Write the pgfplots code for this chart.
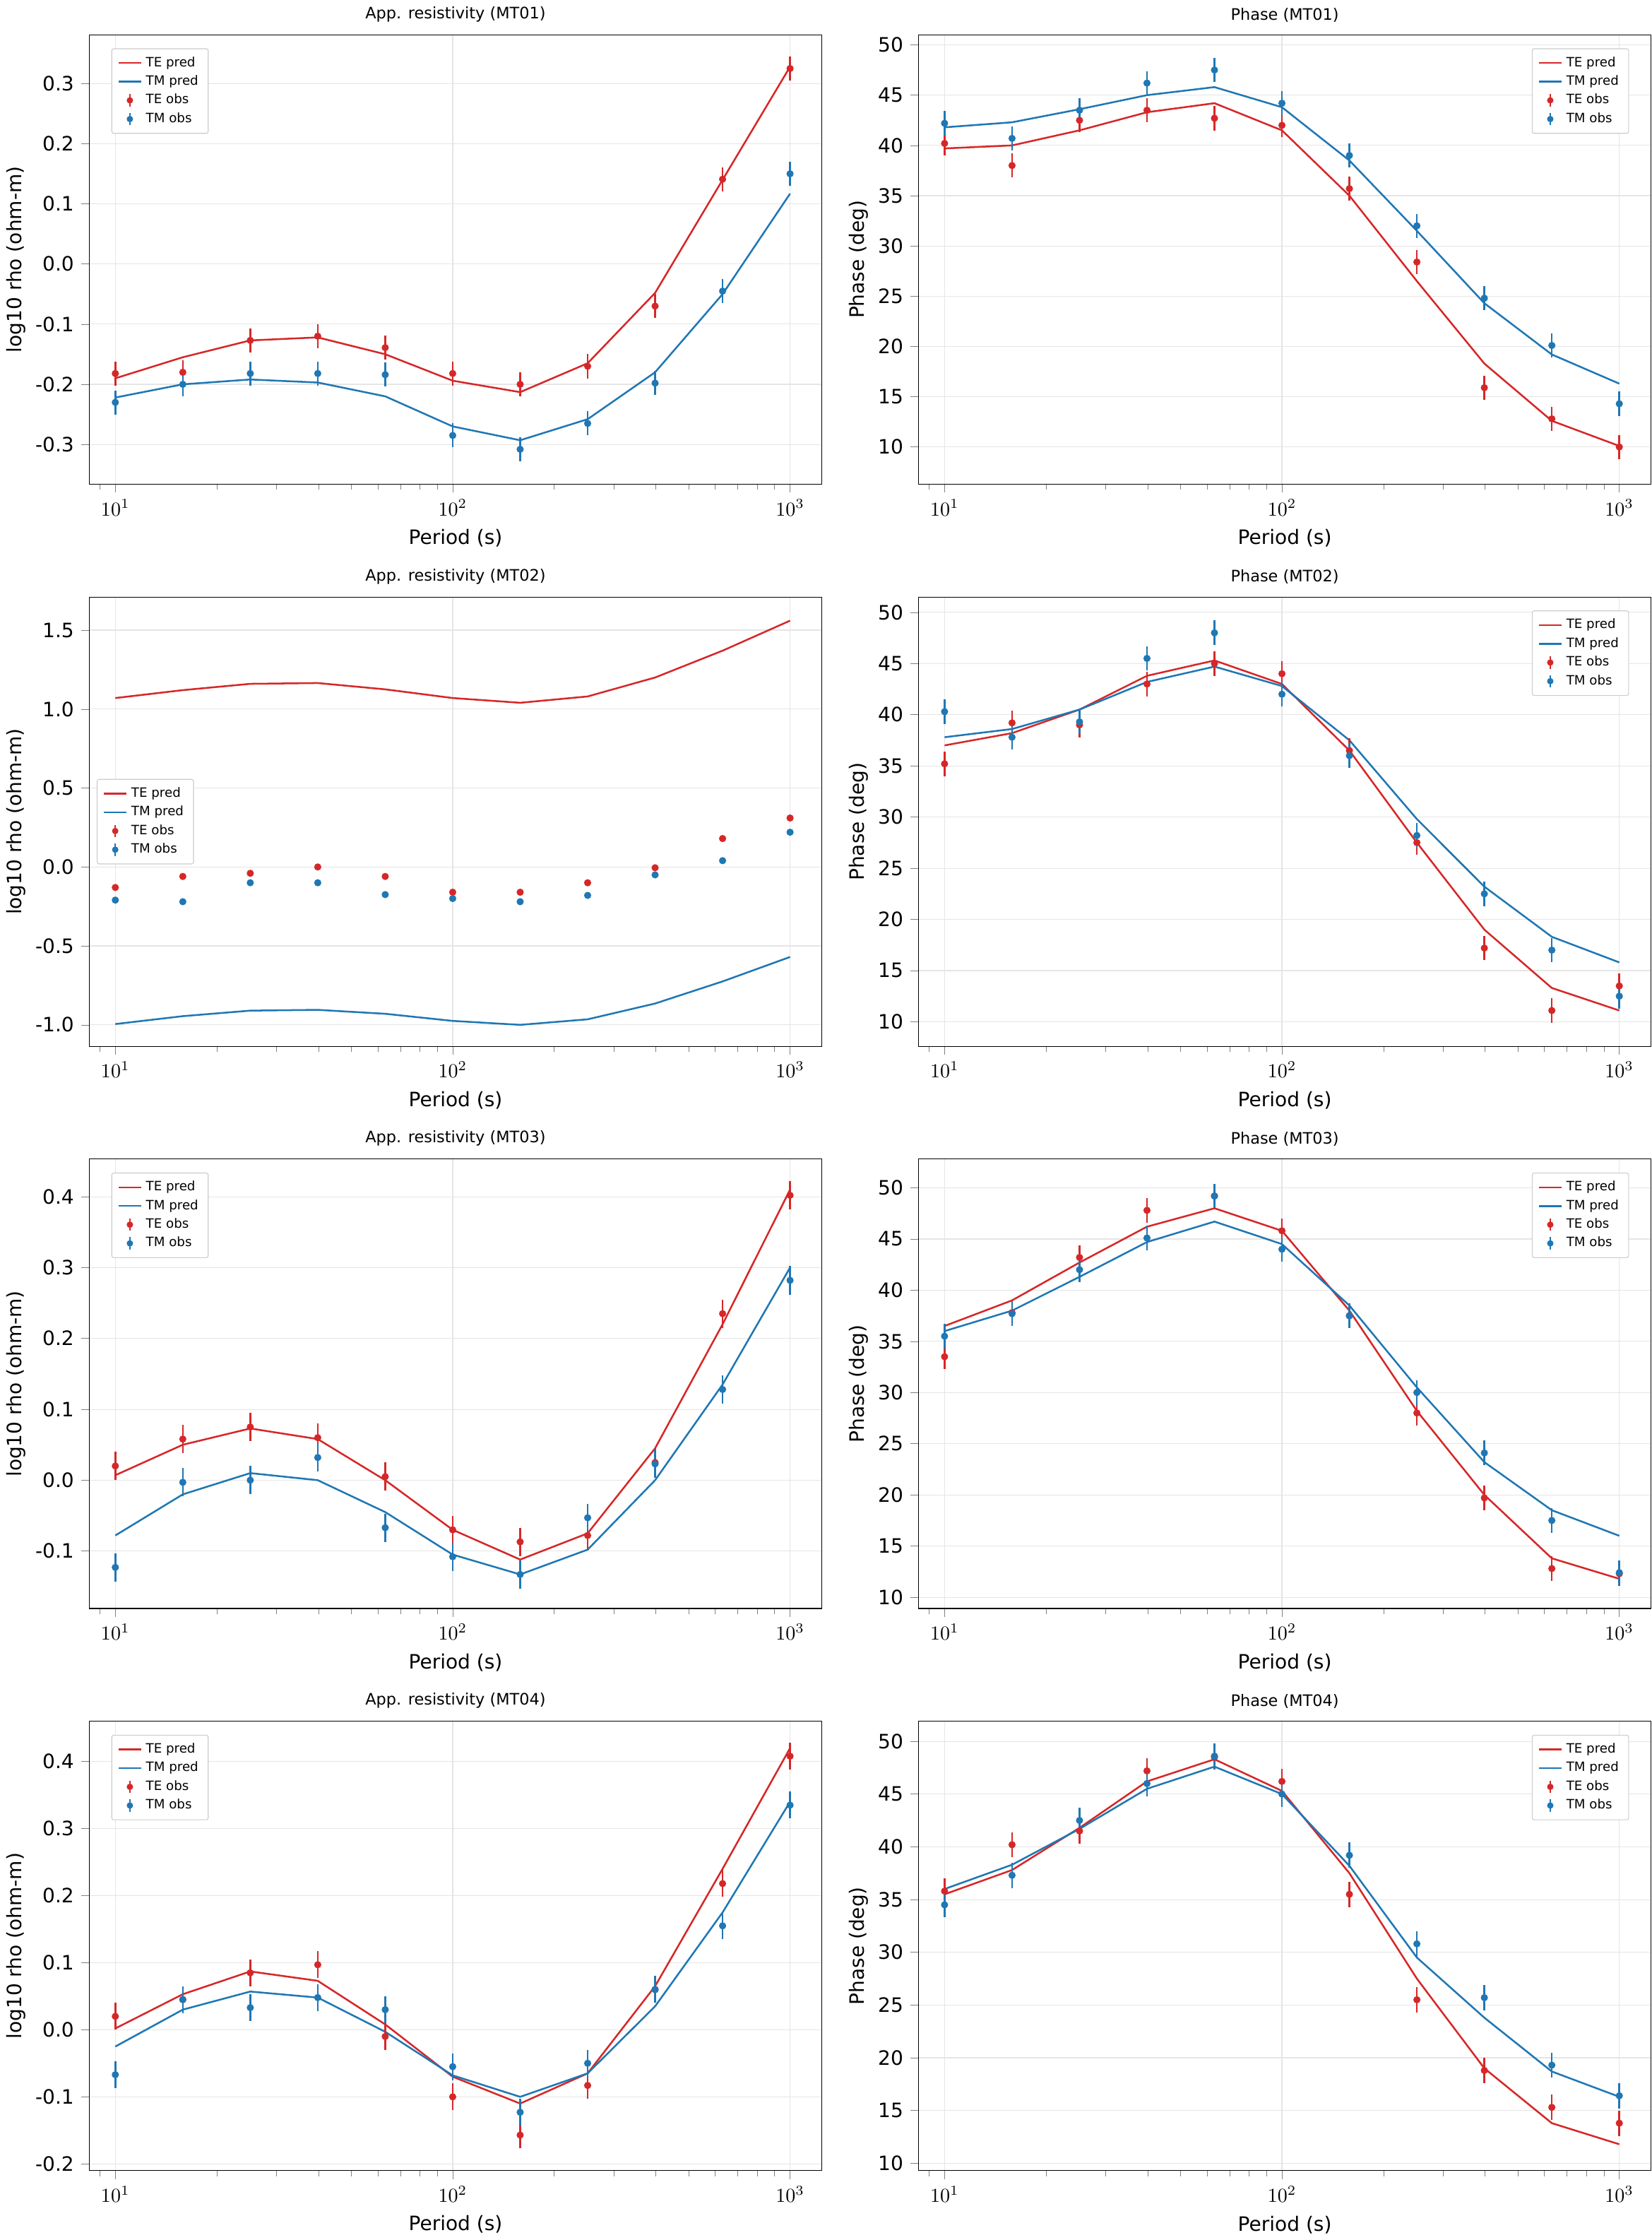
\documentclass[border=0pt]{standalone}
\usepackage{pgfplots}
\pgfplotsset{compat=1.18}
\usepackage{pgfplotstable}
\usepackage{fontspec}
\setmainfont{DejaVu Sans}
\usepgfplotslibrary{groupplots}
\definecolor{tered}{RGB}{214,39,40}
\definecolor{tmblue}{RGB}{31,119,180}

\pgfplotstableread{
T tep tmp teo tmo
10 -0.19 -0.222 -0.182 -0.23
15.849 -0.155 -0.2 -0.18 -0.2
25.119 -0.127 -0.192 -0.127 -0.182
39.811 -0.122 -0.197 -0.12 -0.182
63.096 -0.15 -0.22 -0.139 -0.184
100 -0.194 -0.27 -0.182 -0.285
158.49 -0.213 -0.293 -0.2 -0.308
251.19 -0.165 -0.258 -0.17 -0.265
398.11 -0.048 -0.18 -0.07 -0.198
630.96 0.14 -0.05 0.141 -0.045
1000 0.328 0.117 0.325 0.15
}\rhoA
\pgfplotstableread{
T tep tmp teo tmo
10 39.7 41.8 40.2 42.2
15.849 40.0 42.3 38.0 40.7
25.119 41.5 43.6 42.5 43.5
39.811 43.3 45.0 43.5 46.2
63.096 44.2 45.8 42.7 47.5
100 41.5 43.8 42.0 44.2
158.49 35.0 38.5 35.7 39.0
251.19 26.5 31.5 28.4 32.0
398.11 18.3 24.3 15.9 24.8
630.96 12.6 19.2 12.8 20.1
1000 10.1 16.3 10.0 14.3
}\phA
\pgfplotstableread{
T tep tmp teo tmo
10 1.07 -0.995 -0.13 -0.21
15.849 1.12 -0.945 -0.06 -0.22
25.119 1.16 -0.91 -0.04 -0.1
39.811 1.165 -0.905 0.0 -0.1
63.096 1.125 -0.93 -0.06 -0.175
100 1.07 -0.975 -0.16 -0.2
158.49 1.04 -1.0 -0.16 -0.22
251.19 1.08 -0.965 -0.1 -0.18
398.11 1.2 -0.865 -0.005 -0.05
630.96 1.37 -0.725 0.18 0.04
1000 1.56 -0.57 0.31 0.22
}\rhoB
\pgfplotstableread{
T tep tmp teo tmo
10 37.0 37.8 35.2 40.3
15.849 38.2 38.6 39.2 37.8
25.119 40.5 40.5 39.0 39.3
39.811 43.8 43.2 43.0 45.5
63.096 45.3 44.7 45.0 48.0
100 43.0 42.8 44.0 42.0
158.49 36.5 37.5 36.5 36.0
251.19 27.5 29.8 27.5 28.2
398.11 19.0 23.2 17.2 22.5
630.96 13.3 18.3 11.1 17.0
1000 11.1 15.8 13.5 12.5
}\phB
\pgfplotstableread{
T tep tmp teo tmo
10 0.007 -0.078 0.02 -0.123
15.849 0.05 -0.02 0.058 -0.003
25.119 0.073 0.01 0.075 0.0
39.811 0.058 0.0 0.06 0.032
63.096 0.0 -0.045 0.005 -0.067
100 -0.07 -0.105 -0.07 -0.108
158.49 -0.112 -0.133 -0.087 -0.133
251.19 -0.075 -0.098 -0.078 -0.053
398.11 0.045 0.0 0.025 0.023
630.96 0.22 0.135 0.235 0.128
1000 0.41 0.3 0.402 0.282
}\rhoC
\pgfplotstableread{
T tep tmp teo tmo
10 36.5 36.0 33.5 35.5
15.849 39.0 38.0 37.8 37.7
25.119 42.7 41.3 43.2 42.0
39.811 46.2 44.7 47.8 45.1
63.096 48.0 46.7 49.2 49.2
100 45.8 44.5 45.8 44.0
158.49 38.0 38.5 37.5 37.5
251.19 28.2 30.5 28.0 30.0
398.11 20.0 23.2 19.7 24.1
630.96 13.8 18.5 12.8 17.5
1000 11.8 16.0 12.3 12.4
}\phC
\pgfplotstableread{
T tep tmp teo tmo
10 0.002 -0.025 0.02 -0.067
15.849 0.053 0.03 0.045 0.045
25.119 0.087 0.057 0.085 0.033
39.811 0.073 0.048 0.097 0.048
63.096 0.008 -0.003 -0.01 0.03
100 -0.07 -0.068 -0.1 -0.055
158.49 -0.11 -0.1 -0.157 -0.123
251.19 -0.065 -0.065 -0.083 -0.05
398.11 0.065 0.035 0.06 0.06
630.96 0.24 0.175 0.218 0.155
1000 0.42 0.34 0.408 0.335
}\rhoD
\pgfplotstableread{
T tep tmp teo tmo
10 35.5 36.0 35.8 34.5
15.849 37.8 38.3 40.2 37.3
25.119 41.8 41.7 41.5 42.5
39.811 46.2 45.5 47.2 46.0
63.096 48.3 47.6 48.5 48.6
100 45.3 45.0 46.2 45.0
158.49 37.5 38.2 35.5 39.2
251.19 27.5 29.5 25.5 30.8
398.11 19.0 23.8 18.8 25.7
630.96 13.8 18.7 15.3 19.3
1000 11.8 16.3 13.8 16.4
}\phD

\newcommand\panel[2]{%
  \addplot[tered,line width=0.9pt,no marks,
    legend image code/.code={\draw[tered,line width=0.9pt] (0cm,0cm) -- (0.4cm,0cm);}] table[x=T,y=tep]{#1};
  \addplot[tmblue,line width=0.9pt,no marks,
    legend image code/.code={\draw[tmblue,line width=0.9pt] (0cm,0cm) -- (0.4cm,0cm);}] table[x=T,y=tmp]{#1};
  \addplot[tered,only marks,mark=*,mark size=1.6pt,
    legend image code/.code={\draw[tered,line width=0.9pt] (0.2cm,-0.11cm) -- (0.2cm,0.11cm); \fill[tered] (0.2cm,0cm) circle (1.4pt);},
    error bars/.cd,y dir=both,y fixed=#2,error bar style={line width=0.9pt},error mark=none]
    table[x=T,y=teo]{#1};
  \addplot[tmblue,only marks,mark=*,mark size=1.6pt,
    legend image code/.code={\draw[tmblue,line width=0.9pt] (0.2cm,-0.11cm) -- (0.2cm,0.11cm); \fill[tmblue] (0.2cm,0cm) circle (1.4pt);},
    error bars/.cd,y dir=both,y fixed=#2,error bar style={line width=0.9pt},error mark=none]
    table[x=T,y=tmo]{#1};
  \legend{TE pred,TM pred,TE obs,TM obs}
}

\begin{document}
\begin{tikzpicture}
\begin{groupplot}[
  group style={group size=2 by 4, horizontal sep=49pt, vertical sep=57pt},
  width=370pt, height=227pt, scale only axis,
  xmode=log, xmin=8.38, xmax=1241,
  grid=major, major grid style={gray!20},
  xlabel={Period (s)},
  title style={font=\fontsize{8}{9}\selectfont, yshift=-3pt},
  legend style={font=\fontsize{6.5}{7.5}\selectfont, draw=gray!40, rounded corners=1pt, row sep=-1pt},
  legend cell align=left,
  yticklabel style={/pgf/number format/assume math mode=true},
  tick align=outside, tick pos=left,
  ylabel style={yshift=-2pt},
]
\pgfplotsset{
  rho/.style={ylabel={log10 rho (ohm-m)}, legend pos=north west,
    yticklabel style={/pgf/number format/.cd,fixed,fixed zerofill,precision=1}},
  ph/.style={ylabel={Phase (deg)}, legend pos=north east, ytick={10,15,...,50}},
}
\nextgroupplot[rho, title={App. resistivity (MT01)}, ymin=-0.366, ymax=0.381, ytick={-0.3,-0.2,...,0.31}]
\panel{\rhoA}{0.02}
\nextgroupplot[ph, title={Phase (MT01)}, ymin=6.3, ymax=51]
\panel{\phA}{1.2}
\nextgroupplot[rho, title={App. resistivity (MT02)}, ymin=-1.136, ymax=1.71, ytick={-1,-0.5,0,0.5,1,1.5},
  legend style={at={(0.01,0.5)},anchor=west}]
\panel{\rhoB}{0.008}
\nextgroupplot[ph, title={Phase (MT02)}, ymin=7.6, ymax=51.5]
\panel{\phB}{1.2}
\nextgroupplot[rho, title={App. resistivity (MT03)}, ymin=-0.181, ymax=0.453, ytick={-0.1,0,0.1,0.2,0.3,0.4}]
\panel{\rhoC}{0.02}
\nextgroupplot[ph, title={Phase (MT03)}, ymin=8.9, ymax=52.8]
\panel{\phC}{1.2}
\nextgroupplot[rho, title={App. resistivity (MT04)}, ymin=-0.21, ymax=0.46, ytick={-0.2,-0.1,0,0.1,0.2,0.3,0.4}]
\panel{\rhoD}{0.02}
\nextgroupplot[ph, title={Phase (MT04)}, ymin=9.3, ymax=51.9]
\panel{\phD}{1.2}
\end{groupplot}
\end{tikzpicture}
\end{document}
